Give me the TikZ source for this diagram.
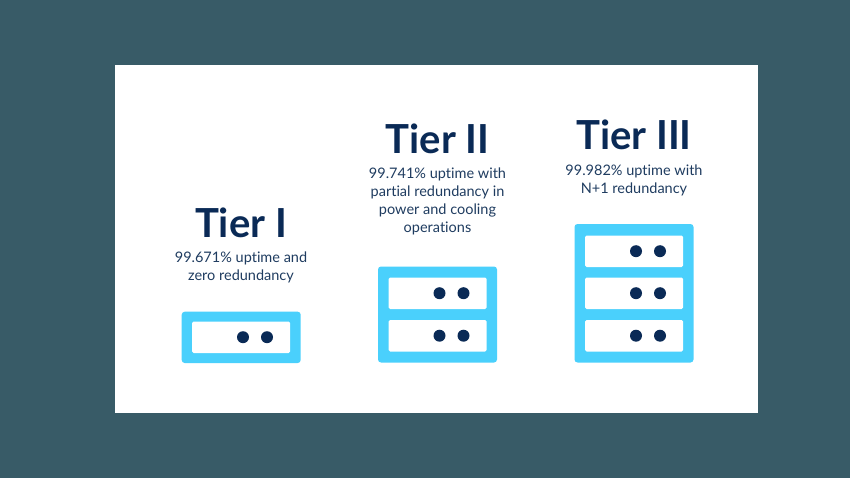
\documentclass[tikz,border=0pt]{standalone}
\usepackage{fontspec}
\setmainfont{Lato}[Ligatures=NoCommon]
\definecolor{bgslate}{HTML}{385B67}
\definecolor{navy}{HTML}{0A2A56}
\definecolor{sky}{HTML}{4AD0FC}
\definecolor{bodytxt}{HTML}{1F3C60}
\tikzset{
  x=1pt,y=-1pt,
  title/.style={text=navy,font=\fontsize{40}{44}\selectfont\bfseries,inner sep=0pt,anchor=base},
  desc/.style={text=bodytxt,font=\fontsize{14.5}{18}\selectfont,inner sep=0pt,align=center,anchor=north},
  rack/.style={fill=sky,rounded corners=3pt},
  slot/.style={fill=white,rounded corners=1.5pt},
  led/.style={fill=navy}
}
\newcommand{\slotrow}[2]{%
  \fill[slot] (#1,#2) rectangle (#1+98,#2+31.5);
  \fill[led] (#1+51,#2+15.7) circle (6);
  \fill[led] (#1+75,#2+15.7) circle (6);
}
\begin{document}
\begin{tikzpicture}
\useasboundingbox (0,0) rectangle (850,478);
\fill[bgslate] (0,0) rectangle (850,478);
\fill[white] (115,65) rectangle (758,413);
\node[title] (t1) at (241,237.5) {Tier I};
\node[title] (t2) at (437.5,153.5) {Tier II};
\node[title] (t3) at (634,150) {Tier III};
\node[desc] (d1) at (241,252) {99.671\% uptime and\\zero redundancy};
\node[desc] (d2) at (437.5,167.5) {99.741\% uptime with\\partial redundancy in\\power and cooling\\operations};
\node[desc] (d3) at (634,165) {99.982\% uptime with\\N+1 redundancy};
\fill[rack] (181.7,311.7) rectangle (300.7,363);
\slotrow{192}{321.5}
\fill[rack] (378,266.5) rectangle (497,362.5);
\slotrow{388.5}{277.5}
\slotrow{388.5}{320}
\fill[rack] (574.5,224) rectangle (693.5,362.5);
\slotrow{585}{235.5}
\slotrow{585}{277.5}
\slotrow{585}{320}
\end{tikzpicture}
\end{document}
